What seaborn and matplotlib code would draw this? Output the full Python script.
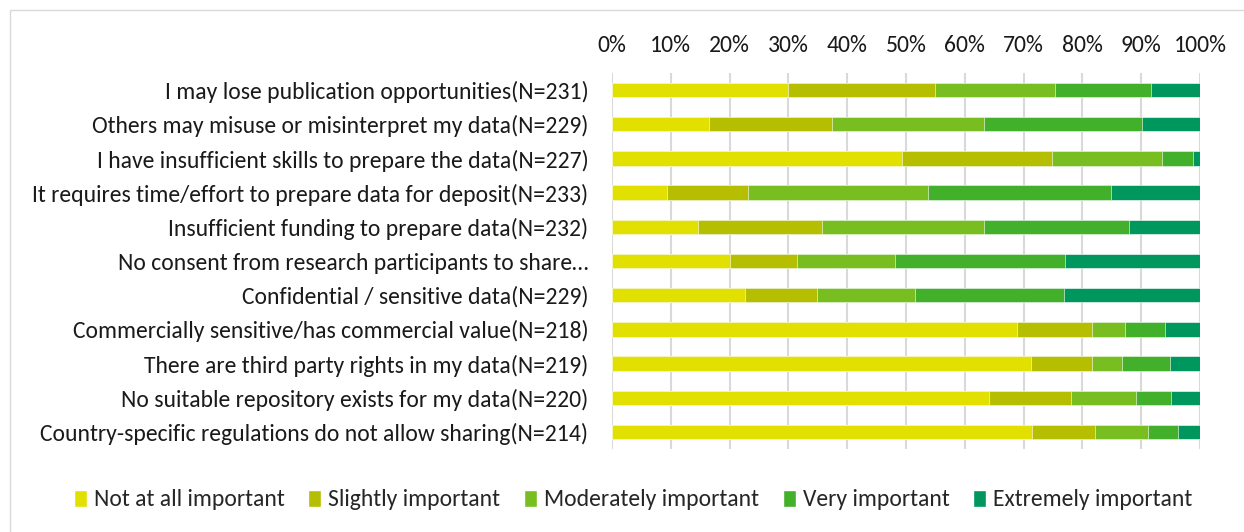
import pandas as pd
import seaborn as sns
import matplotlib.pyplot as plt
from matplotlib.patches import Rectangle, Patch

# survey reasons (top to bottom) and share of responses per importance level (%)
reasons = [
    "I may lose publication opportunities(N=231)",
    "Others may misuse or misinterpret my data(N=229)",
    "I have insufficient skills to prepare the data(N=227)",
    "It requires time/effort to prepare data for deposit(N=233)",
    "Insufficient funding to prepare data(N=232)",
    "No consent from research participants to share\u2026",
    "Confidential / sensitive data(N=229)",
    "Commercially sensitive/has commercial value(N=218)",
    "There are third party rights in my data(N=219)",
    "No suitable repository exists for my data(N=220)",
    "Country-specific regulations do not allow sharing(N=214)",
]
levels = ["Not at all important", "Slightly important", "Moderately important",
          "Very important", "Extremely important"]
not_at_all = [29.9, 16.5, 49.3, 9.3, 14.6, 20.1, 22.6, 68.8, 71.2, 64.1, 71.5]
slightly = [25.0, 20.9, 25.6, 13.9, 21.1, 11.3, 12.3, 12.9, 10.5, 14.0, 10.7]
moderately = [20.4, 25.9, 18.6, 30.5, 27.6, 16.8, 16.6, 5.5, 5.1, 11.0, 8.9]
very = [16.4, 26.8, 5.3, 31.2, 24.7, 28.9, 25.4, 6.9, 8.1, 5.9, 5.2]
extremely = [8.3, 9.9, 1.2, 15.1, 12.0, 22.9, 23.1, 5.9, 5.1, 5.0, 3.7]
colors = ["#E2E000", "#B5BE00", "#78BE21", "#42B02B", "#00975E"]

df = pd.DataFrame({"reason": reasons, levels[0]: not_at_all, levels[1]: slightly,
                   levels[2]: moderately, levels[3]: very, levels[4]: extremely})
cum = df[levels].cumsum(axis=1)
cum = cum.div(cum[levels[-1]], axis=0) * 100  # normalise rows to 100%
cum["reason"] = reasons

sns.set_theme(style="white")
plt.rcParams["font.family"] = ["Carlito", "Liberation Sans", "DejaVu Sans"]
FS = 17

fig = plt.figure(figsize=(12.44, 5.32), dpi=100)
ax = fig.add_axes([612 / 1244, 1 - 449 / 532, 588 / 1244, 376 / 532])

# stacked bars: draw cumulative totals from the widest down
for lvl, col in zip(reversed(levels), reversed(colors)):
    sns.barplot(data=cum, x=lvl, y="reason", order=reasons, color=col,
                saturation=1, width=0.42, ax=ax, edgecolor="white",
                linewidth=0.4, zorder=3)

ax.set_xlim(0, 100)
ax.set_xticks(range(0, 101, 10))
ax.set_xticklabels([f"{v}%" for v in range(0, 101, 10)])
ax.xaxis.tick_top()
ax.tick_params(axis="x", length=0, pad=12, labelsize=FS, colors="#1a1a1a")
ax.tick_params(axis="y", length=0, pad=17, labelsize=FS, colors="#1a1a1a")
ax.set_xlabel("")
ax.set_ylabel("")
ax.grid(axis="x", color="#D9D9D9", linewidth=1.5, zorder=0)
for s in ax.spines.values():
    s.set_visible(False)

handles = [Patch(facecolor=c, label=l) for c, l in zip(colors, levels)]
fig.legend(handles=handles, loc="center", bbox_to_anchor=(633 / 1244, 1 - 500 / 532),
           ncol=5, frameon=False, fontsize=FS, handlelength=0.55, handleheight=0.7,
           handletextpad=0.3, columnspacing=1.0)

# chart frame
fig.patches.append(Rectangle((10 / 1244, -0.05), 1.2, 1 - 10 / 532 + 0.05,
                             transform=fig.transFigure, fill=False,
                             edgecolor="#D9D9D9", linewidth=1))

fig.savefig("out.png", dpi=100)
